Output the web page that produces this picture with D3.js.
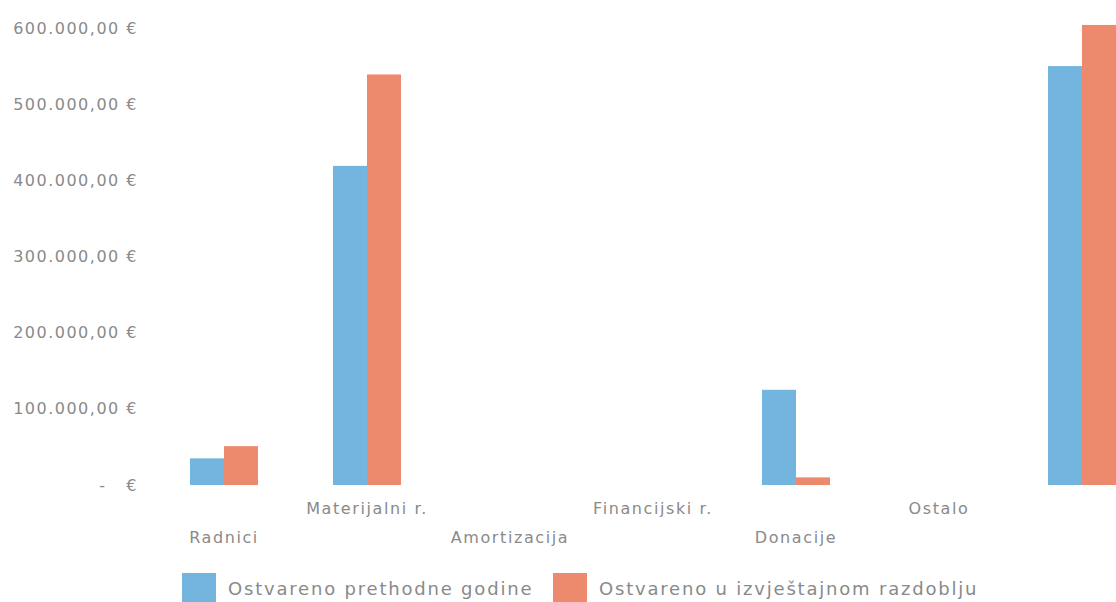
<!DOCTYPE html>
<html><head><meta charset="utf-8">
<script src="https://cdn.jsdelivr.net/npm/d3@7"></script>
<style>
html,body{margin:0;padding:0;background:#fff;overflow:hidden}
svg text{font-family:"DejaVu Sans",sans-serif;fill:#8a8a8a;white-space:pre}
</style></head><body>
<svg id="c" width="1116" height="602"></svg>
<script>
const categories = ["Radnici","Materijalni r.","Amortizacija","Financijski r.","Donacije","Ostalo",""];
const prethodne = [35000, 419000, 0, 0, 125000, 0, 550000];
const izvjestajno = [51000, 539000, 0, 0, 10000, 0, 604000];
const seriesNames = ["Ostvareno prethodne godine","Ostvareno u izvještajnom razdoblju"];
const tickValues = [0,100000,200000,300000,400000,500000,600000];
const tickLabels = ["-   €","100.000,00 €","200.000,00 €","300.000,00 €","400.000,00 €","500.000,00 €","600.000,00 €"];
const colors = ["#74b5df","#ed8a6e"];

const svg = d3.select("#c");
const y = d3.scaleLinear().domain([0,600000]).range([485,28]);
const x = d3.scaleBand().domain(categories.map((d,i)=>i)).range([152.5,1153.5]).paddingInner(75/143).paddingOuter(75/286);
const xs = d3.scaleBand().domain([0,1]).range([0,x.bandwidth()]);

const yAxis = svg.append("g").attr("transform","translate(138,0)")
  .call(d3.axisLeft(y).tickValues(tickValues).tickFormat((d,i)=>tickLabels[i]).tickSize(0).tickPadding(0));
yAxis.select(".domain").remove();
yAxis.selectAll("text").attr("font-size",16).attr("fill","#8a8a8a").attr("letter-spacing",1.5)
  .style("font-family",'"DejaVu Sans",sans-serif');

const data = categories.map((c,i)=>({i, vals:[prethodne[i], izvjestajno[i]]}));
const g = svg.append("g");
g.selectAll("g.cat").data(data).join("g").attr("class","cat")
  .attr("transform",d=>`translate(${x(d.i)},0)`)
  .selectAll("rect").data(d=>d.vals.map((v,k)=>({v,k}))).join("rect")
  .attr("x",d=>xs(d.k)).attr("width",xs.bandwidth())
  .attr("y",d=>y(d.v)).attr("height",d=>y(0)-y(d.v))
  .attr("fill",d=>colors[d.k]);

const xAxis = svg.append("g").attr("transform","translate(0,485)")
  .call(d3.axisBottom(x).tickFormat(i=>categories[i]).tickSize(0).tickPadding(0));
xAxis.select(".domain").remove();
xAxis.selectAll("text").attr("font-size",16).attr("fill","#8a8a8a").attr("letter-spacing",1.6)
  .style("font-family",'"DejaVu Sans",sans-serif')
  .attr("dy",null).attr("y",(d,i)=> i%2===0 ? 58 : 29);

const legend = svg.append("g");
const lx = [182, 553];
seriesNames.forEach((n,k)=>{
  legend.append("rect").attr("x",lx[k]).attr("y",573).attr("width",34).attr("height",29).attr("fill",colors[k]);
  legend.append("text").attr("x",lx[k]+46).attr("y",595).attr("font-size",18).attr("letter-spacing",1.8)
    .attr("fill","#808080").text(n);
});
</script></body></html>
